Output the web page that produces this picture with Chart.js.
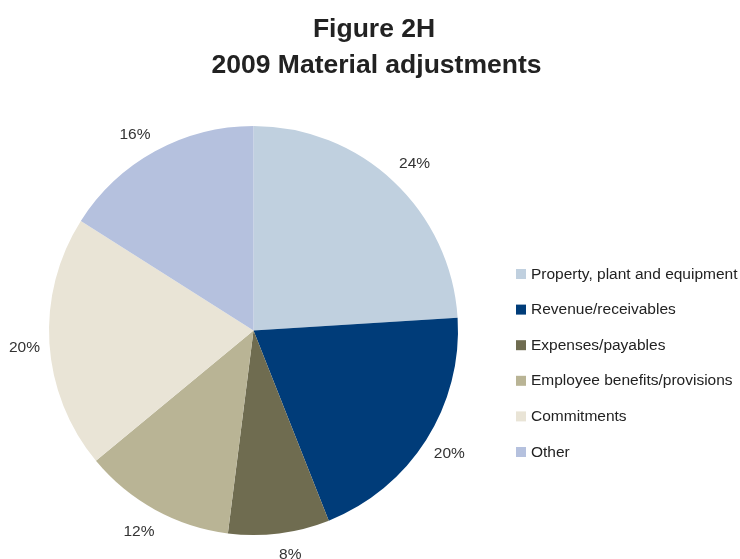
<!DOCTYPE html>
<html>
<head>
<meta charset="utf-8">
<style>
  html, body { margin: 0; padding: 0; background: #fff; }
  #wrap { position: relative; width: 740px; height: 559px; }
</style>
<script src="https://cdn.jsdelivr.net/npm/chart.js"></script>
</head>
<body>
<div id="wrap"><canvas id="pie" width="740" height="559"></canvas></div>
<script>
const titleLines = ['Figure 2H', '2009 Material adjustments'];
const categories = [
  'Property, plant and equipment',
  'Revenue/receivables',
  'Expenses/payables',
  'Employee benefits/provisions',
  'Commitments',
  'Other'
];
const shares = [24, 20, 8, 12, 20, 16];
const sliceColors = ['#c0d0df', '#003c79', '#6f6c50', '#b9b495', '#e9e4d6', '#b5c1de'];

const FONT = '"Liberation Sans", Arial, sans-serif';

// small hand nudges so the outside labels sit the way the spreadsheet put them
const labelNudge = [[4, -1], [2, -1], [8, -5], [-4, -1], [0, 2], [-8, 4]];

// title, outside percentage labels and the right-hand legend
const decorations = {
  id: 'decorations',
  afterDraw(chart) {
    const ctx = chart.ctx;
    ctx.save();
    ctx.fillStyle = '#222';
    ctx.textAlign = 'center';
    ctx.textBaseline = 'alphabetic';
    ctx.font = 'bold 26.5px ' + FONT;
    ctx.fillText(titleLines[0], 374, 37);
    ctx.fillText(titleLines[1], 376.5, 73);

    // percentage labels just beyond the rim
    ctx.font = '15.5px ' + FONT;
    ctx.fillStyle = '#333';
    chart.getDatasetMeta(0).data.forEach((arc, i) => {
      const mid = (arc.startAngle + arc.endAngle) / 2;
      const r = arc.outerRadius + 25;
      const x = arc.x + Math.cos(mid) * r + labelNudge[i][0];
      const y = arc.y + Math.sin(mid) * r + labelNudge[i][1];
      ctx.fillText(shares[i] + '%', x, y + 5.5);
    });

    // legend
    ctx.textAlign = 'left';
    ctx.font = '15.5px ' + FONT;
    categories.forEach((name, i) => {
      const top = 269 + i * 35.6;
      ctx.fillStyle = sliceColors[i];
      ctx.fillRect(516, top, 10, 10);
      ctx.fillStyle = '#222';
      ctx.fillText(name, 531, top + 9.5);
    });
    ctx.restore();
  }
};

new Chart(document.getElementById('pie'), {
  type: 'pie',
  data: {
    labels: categories,
    datasets: [{
      data: shares,
      backgroundColor: sliceColors,
      borderWidth: 0
    }]
  },
  options: {
    responsive: false,
    animation: false,
    layout: { padding: { left: 49, right: 282, top: 126, bottom: 24 } },
    plugins: {
      legend: { display: false },
      title: { display: false },
      tooltip: { enabled: false }
    }
  },
  plugins: [decorations]
});
</script>
</body>
</html>
